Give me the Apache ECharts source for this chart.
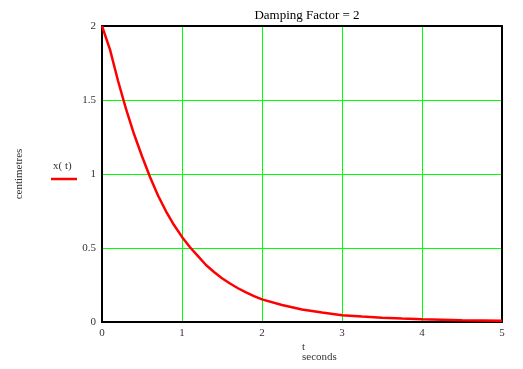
<!DOCTYPE html>
<html><head><meta charset="utf-8">
<script src="https://cdn.jsdelivr.net/npm/echarts@6/dist/echarts.min.js"></script>
<style>html,body{margin:0;padding:0;background:#fff}#c{width:523px;height:369px}</style>
</head><body><div id="c"></div>
<script>
const tValues = [0, 0.1, 0.2, 0.3, 0.4, 0.5, 0.6, 0.7, 0.8, 0.9, 1.0, 1.1, 1.2, 1.3, 1.4, 1.5, 1.6, 1.7, 1.8, 1.9, 2.0, 2.25, 2.5, 2.75, 3.0, 3.25, 3.5, 3.75, 4.0, 4.5, 5.0];
const xValues = [2.0, 1.84, 1.63, 1.44, 1.27, 1.12, 0.98, 0.855, 0.748, 0.655, 0.575, 0.505, 0.445, 0.385, 0.338, 0.296, 0.26, 0.228, 0.2, 0.175, 0.153, 0.115, 0.085, 0.064, 0.046, 0.037, 0.029, 0.023, 0.018, 0.012, 0.008];
const xTicks = [0, 1, 2, 3, 4, 5];
const yTicks = [0, 0.5, 1, 1.5, 2];
const titleText = 'Damping Factor = 2';
const seriesName = 'x( t)';

const font = '"Liberation Serif", "DejaVu Serif", serif';
const border = { show: true, onZero: false, lineStyle: { color: '#000', width: 2 } };
const split = { show: true, lineStyle: { color: '#00ff00', width: 1 } };
const label = { fontFamily: font, fontSize: 11, color: '#333' };
const chart = echarts.init(document.getElementById('c'));
chart.setOption({
  animation: false,
  backgroundColor: '#fff',
  title: { text: titleText, left: 302, textAlign: 'center', top: 4,
    textStyle: { fontFamily: font, fontSize: 13, fontWeight: 'normal', color: '#000' } },
  grid: { left: 102, right: 21, top: 26, bottom: 47 },
  xAxis: [{
    type: 'value', position: 'bottom', min: xTicks[0], max: xTicks[xTicks.length-1], interval: 1,
    axisLine: border, axisTick: { show: false },
    axisLabel: Object.assign({ margin: 6 }, label),
    splitLine: split
  }, {
    type: 'value', position: 'top', min: xTicks[0], max: xTicks[xTicks.length-1], interval: 1,
    axisLine: border, axisTick: { show: false }, axisLabel: { show: false }, splitLine: { show: false }
  }],
  yAxis: [{
    type: 'value', position: 'left', min: yTicks[0], max: yTicks[yTicks.length-1], interval: 0.5,
    axisLine: border, axisTick: { show: false },
    axisLabel: Object.assign({ margin: 6 }, label),
    splitLine: split
  }, {
    type: 'value', position: 'right', min: yTicks[0], max: yTicks[yTicks.length-1], interval: 0.5,
    axisLine: border, axisTick: { show: false }, axisLabel: { show: false }, splitLine: { show: false }
  }],
  graphic: [
    { type: 'text', left: 302, top: 342, style: { text: 't', fontFamily: font, fontSize: 11, fill: '#333', textAlign: 'center' } },
    { type: 'text', left: 302, top: 352, style: { text: 'seconds', fontFamily: font, fontSize: 11, fill: '#333', textAlign: 'center' } },
    { type: 'text', x: 19, y: 174, rotation: Math.PI/2, style: { text: 'centimetres', fontFamily: font, fontSize: 11, fill: '#333', align: 'center', verticalAlign: 'middle' } },
    { type: 'text', left: 53, top: 161, style: { text: seriesName, fontFamily: font, fontSize: 11, fill: '#333' } },
    { type: 'line', shape: { x1: 51, y1: 179, x2: 77, y2: 179 }, style: { stroke: '#ff0000', lineWidth: 2.5 } }
  ],
  series: [{
    name: seriesName, type: 'line', smooth: false, showSymbol: false,
    lineStyle: { color: '#ff0000', width: 2.5 }, z: 5,
    data: tValues.map((t, i) => [t, xValues[i]])
  }]
});
</script></body></html>
